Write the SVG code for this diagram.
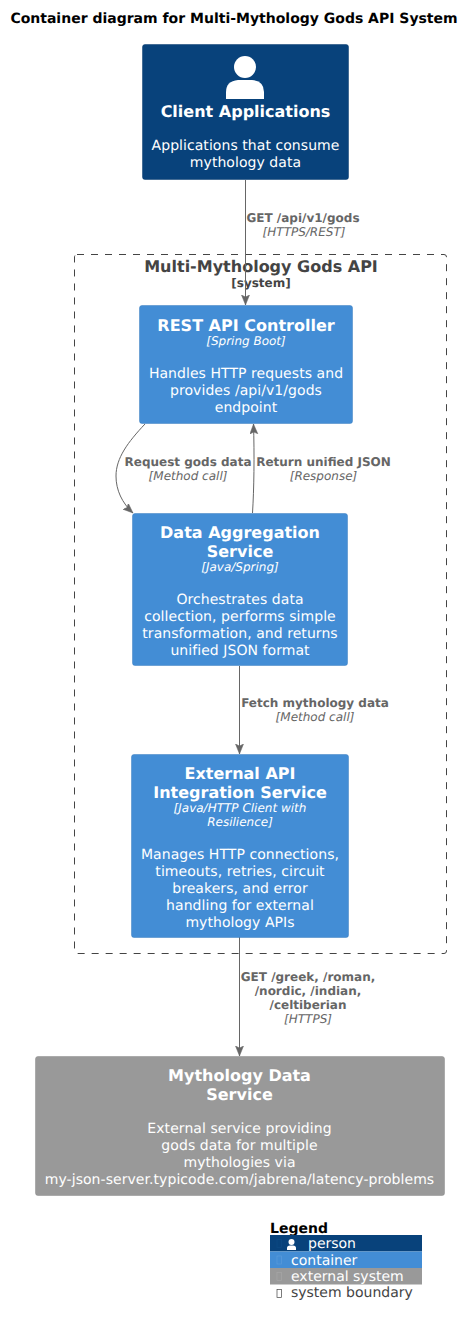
<svg xmlns="http://www.w3.org/2000/svg" width="474" height="1326" viewBox="0 0 474 1326">
<defs>
<marker id="arrow" markerWidth="11" markerHeight="10" refX="10" refY="4" orient="auto" markerUnits="userSpaceOnUse"><path d="M0,0 L10,4 L0,8 L2,4 Z" fill="#666666" stroke="#666666" stroke-width="0.5"/></marker>
</defs>
<style>
text{font-family:"DejaVu Sans",sans-serif;text-anchor:middle;text-rendering:geometricPrecision}
.title{font-size:14px;font-weight:bold;fill:#000}
.name{font-size:16px;font-weight:bold;fill:#fff}
.tech{font-size:12px;font-style:italic;fill:#fff}
.desc{font-size:14px;fill:#fff;letter-spacing:.06px}
.rl{font-size:12px;font-weight:bold;fill:#666}
.rt{font-size:12px;font-style:italic;fill:#666}
.box{stroke-width:.5}
.c{fill:#438DD5;stroke:#3C7FC0}
.p{fill:#08427B;stroke:#073B6F}
.e{fill:#999;stroke:#8A8A8A}
.con{fill:none;stroke:#666;stroke-width:1;marker-end:url(#arrow)}
.lg{font-size:14px;text-anchor:start;fill:#fff}
.tofu{fill:none;stroke-width:.7}
</style>
<rect width="474" height="1326" fill="#fff"/>
<text class="title" x="234" y="23">Container diagram for Multi-Mythology Gods API System</text>
<g id="boundary">
<rect x="74.500" y="254.500" width="372" height="699" rx="2.500" ry="2.500" fill="none" stroke="#444" stroke-width="1" stroke-dasharray="7,7"/>
<text x="261" y="272" font-size="16" font-weight="bold" fill="#444">Multi-Mythology Gods API</text>
<text x="261" y="287" font-size="12" font-weight="bold" fill="#444">[system]</text>
</g>
<g id="connectors">
<path class="con" d="M245.500,180 L245.500,305"/>
<path class="con" d="M145,424 C128,442 116,458 116,476 C116,490 122,503 133,513"/>
<path class="con" d="M252.500,513 C254,490 254.500,455 253.500,424"/>
<path class="con" d="M239.500,666 L239.500,754"/>
<path class="con" d="M239.500,937 L239.500,1056"/>
<text class="rl" x="303" y="222">GET /api/v1/gods</text>
<text class="rt" x="304" y="236">[HTTPS/REST]</text>
<text class="rl" x="188" y="466">Request gods data</text>
<text class="rt" x="188" y="480">[Method call]</text>
<text class="rl" x="323.500" y="466">Return unified JSON</text>
<text class="rt" x="323.500" y="480">[Response]</text>
<text class="rl" x="315" y="707">Fetch mythology data</text>
<text class="rt" x="315" y="721">[Method call]</text>
<text class="rl" x="308" y="981">GET /greek, /roman,</text>
<text class="rl" x="308" y="995">/nordic, /indian,</text>
<text class="rl" x="308" y="1009">/celtiberian</text>
<text class="rt" x="308" y="1023">[HTTPS]</text>
</g>
<g id="client">
<rect class="box p" x="142.500" y="44.500" width="206" height="135" rx="2.500"/>
<path fill="#fff" d="M226,99 L226,92 Q226,81 238,80 L252,80 Q264,81 264,92 L264,99 Z"/>
<circle cx="245" cy="67" r="11" fill="#fff"/>
<text class="name" x="245.500" y="117">Client Applications</text>
<text class="desc" x="245.500" y="150">Applications that consume</text>
<text class="desc" x="245.500" y="167">mythology data</text>
</g>
<g id="rest">
<rect class="box c" x="139.500" y="305.500" width="213" height="118" rx="2.500"/>
<text class="name" x="246" y="331">REST API Controller</text>
<text class="tech" x="246" y="345">[Spring Boot]</text>
<text class="desc" x="246" y="378">Handles HTTP requests and</text>
<text class="desc" x="246" y="395">provides /api/v1/gods</text>
<text class="desc" x="246" y="412">endpoint</text>
</g>
<g id="aggregation">
<rect class="box c" x="132.500" y="513.500" width="215" height="152" rx="2.500"/>
<text class="name" x="240" y="538">Data Aggregation</text>
<text class="name" x="240" y="557">Service</text>
<text class="tech" x="240" y="571">[Java/Spring]</text>
<text class="desc" x="240" y="604">Orchestrates data</text>
<text class="desc" x="240" y="621">collection, performs simple</text>
<text class="desc" x="240" y="638">transformation, and returns</text>
<text class="desc" x="240" y="655">unified JSON format</text>
</g>
<g id="integration">
<rect class="box c" x="131.500" y="754.500" width="217" height="183" rx="2.500"/>
<text class="name" x="240" y="779">External API</text>
<text class="name" x="240" y="798">Integration Service</text>
<text class="tech" x="240" y="812">[Java/HTTP Client with</text>
<text class="tech" x="240" y="826">Resilience]</text>
<text class="desc" x="240" y="859">Manages HTTP connections,</text>
<text class="desc" x="240" y="876">timeouts, retries, circuit</text>
<text class="desc" x="240" y="893">breakers, and error</text>
<text class="desc" x="240" y="910">handling for external</text>
<text class="desc" x="240" y="927">mythology APIs</text>
</g>
<g id="external">
<rect class="box e" x="35.500" y="1056.500" width="409" height="139" rx="2.500"/>
<text class="name" x="239.500" y="1081">Mythology Data</text>
<text class="name" x="239.500" y="1100">Service</text>
<text class="desc" x="239.500" y="1133">External service providing</text>
<text class="desc" x="239.500" y="1150">gods data for multiple</text>
<text class="desc" x="239.500" y="1167">mythologies via</text>
<text class="desc" x="239.500" y="1184">my-json-server.typicode.com/jabrena/latency-problems</text>
</g>
<g id="legend">
<text x="270" y="1233" font-size="14" font-weight="bold" fill="#000" style="text-anchor:start">Legend</text>
<rect x="270" y="1235" width="152" height="16.500" fill="#08427B"/>
<rect x="270" y="1251.500" width="152" height="16.500" fill="#438DD5"/>
<rect x="270" y="1268" width="152" height="16.500" fill="#999"/>
<rect class="tofu" x="277" y="1239.500" width="4.500" height="8" stroke="#0D4A85"/>
<rect class="tofu" x="277" y="1256" width="4.500" height="8" stroke="#5A9BDB"/>
<rect class="tofu" x="277" y="1272.500" width="4.500" height="8" stroke="#A6A6A6"/>
<rect class="tofu" x="277" y="1289.500" width="4.500" height="8" stroke="#444"/>
<circle cx="291.500" cy="1242" r="3" fill="#fff"/>
<path fill="#fff" d="M287,1250 L287,1248 Q287,1245.500 290,1245.500 L293,1245.500 Q296,1245.500 296,1248 L296,1250 Z"/>
<text class="lg" x="308" y="1248">person</text>
<text class="lg" x="291" y="1265">container</text>
<text class="lg" x="291" y="1281">external system</text>
<text class="lg" x="291" y="1297" style="fill:#444">system boundary</text>
</g>
</svg>
